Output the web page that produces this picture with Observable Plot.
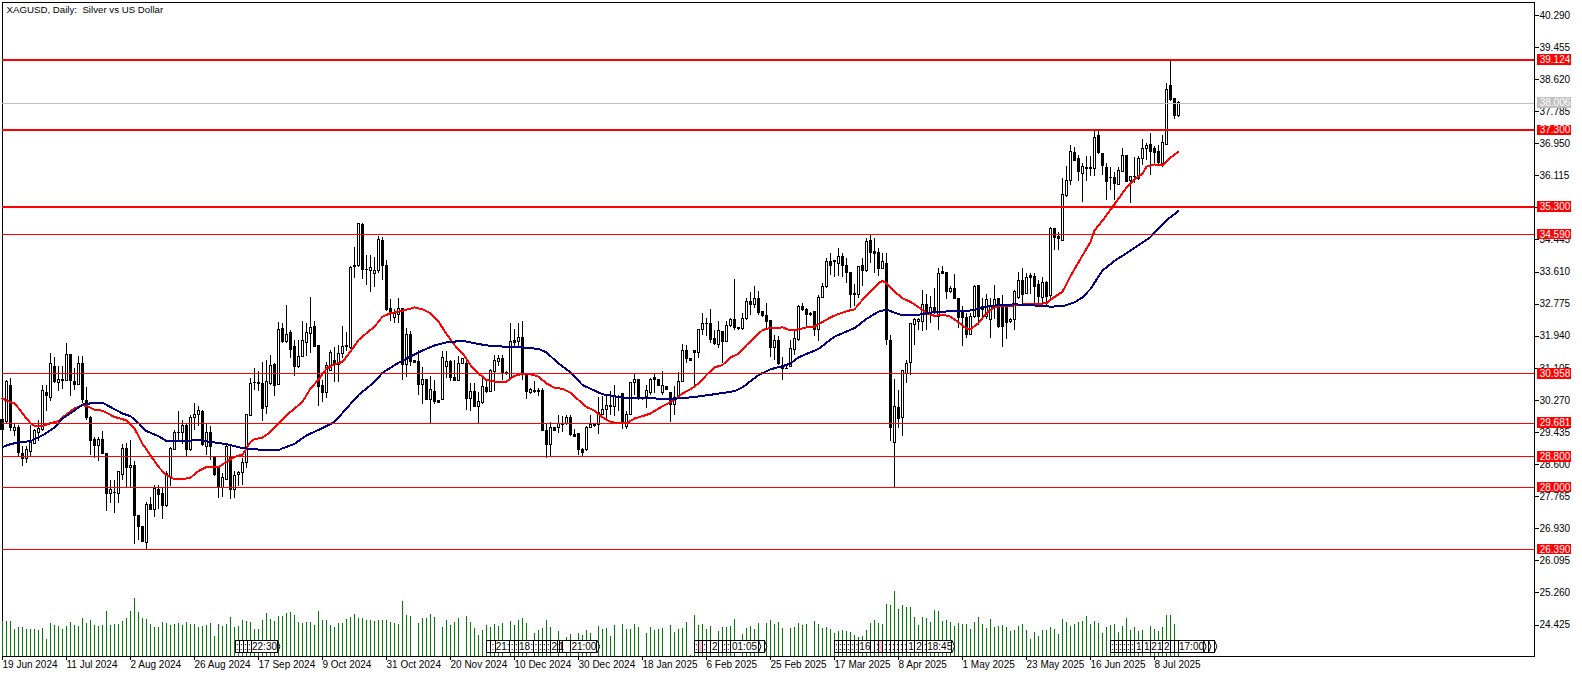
<!DOCTYPE html>
<html>
<head>
<meta charset="utf-8">
<style>
html,body{margin:0;padding:0;background:#fff;overflow:hidden}
#chart{position:relative;width:1582px;height:677px}
#chart svg{position:absolute;left:0;top:0;background:transparent}
#chart svg text{white-space:pre}
</style>
<script src="https://cdn.jsdelivr.net/npm/d3@7"></script>
<script src="https://cdn.jsdelivr.net/npm/@observablehq/plot@0.6"></script>
</head>
<body>
<div id="chart"></div>
<script>
const title = "XAGUSD, Daily:  Silver vs US Dollar";
const opens = [
29.75,29.71,30.64,29.47,29.56,28.88,28.74,28.93,29.14,29.42,
29.49,30.45,30.34,31.13,30.73,30.78,30.78,31.45,30.76,30.68,
31.23,30.26,29.80,29.23,29.08,29.23,28.87,27.84,27.87,27.84,
28.34,29.01,28.52,28.57,27.25,26.97,26.56,27.54,27.42,27.95,
27.84,27.52,28.27,28.99,29.43,29.42,29.60,28.97,29.81,29.90,
29.96,29.06,29.41,28.80,28.54,28.00,28.20,28.80,27.93,28.34,
28.38,28.64,29.87,30.71,30.70,30.70,30.09,30.70,31.19,30.67,
32.13,31.79,32.02,31.65,31.13,31.41,31.77,31.99,32.17,31.69,
30.64,30.45,31.04,31.30,31.18,31.49,31.65,31.63,33.75,33.77,
34.84,33.67,33.65,33.56,33.64,34.42,33.77,32.64,32.41,32.48,
32.64,31.18,31.97,31.30,31.28,30.68,30.80,30.28,30.50,30.25,
30.28,31.13,31.27,30.85,30.78,31.23,31.23,30.30,30.50,30.10,
30.21,30.59,30.50,31.01,31.28,31.36,30.96,30.86,31.82,31.80,
31.89,30.97,30.45,30.52,30.50,30.51,29.47,29.11,29.54,29.56,
29.62,29.65,29.82,29.38,29.39,28.97,28.97,29.56,29.61,29.63,
29.89,30.02,30.09,30.10,30.36,30.43,29.58,29.89,30.71,30.80,
30.34,30.35,30.45,30.84,30.80,30.45,30.63,30.47,30.16,30.32,
30.76,31.56,31.35,31.56,31.51,32.09,32.25,32.26,31.86,31.71,
32.06,31.80,32.21,32.36,32.16,32.13,32.39,32.83,32.74,32.91,
32.56,32.47,32.33,31.64,31.82,31.17,31.09,31.15,31.58,31.84,
32.70,32.63,32.51,32.57,32.09,32.93,33.22,33.87,33.89,33.83,
34.00,33.78,33.58,33.04,33.02,33.76,33.63,34.41,34.13,34.10,
33.70,33.83,31.81,29.17,30.07,29.82,30.97,31.25,32.23,32.30,
32.32,32.76,32.50,32.67,32.45,33.60,33.58,33.08,33.17,32.91,
32.58,32.41,31.97,32.43,33.25,32.70,32.45,32.37,32.67,32.91,
32.67,32.67,32.30,32.35,32.93,33.38,33.04,33.51,33.48,33.28,
32.93,33.32,32.98,34.72,34.52,34.43,35.59,35.98,36.72,36.54,
36.17,36.33,36.33,36.28,37.15,36.68,36.33,36.06,36.07,35.88,
36.22,36.64,35.98,36.08,36.02,36.54,36.80,36.92,36.80,36.74,
36.43,36.91,38.45,38.10,37.67];
const closes = [
29.49,30.74,29.54,29.54,28.90,28.74,28.97,29.16,29.47,29.53,
30.51,30.39,31.21,30.75,30.79,30.81,31.45,30.78,30.67,31.23,
30.27,29.81,29.21,29.09,29.23,28.88,27.84,27.93,27.86,28.40,
29.01,28.52,28.57,27.26,26.97,26.58,27.54,27.43,27.97,27.82,
27.52,28.36,29.01,29.43,29.41,29.60,28.99,29.80,29.90,29.99,
29.12,29.41,29.06,28.32,28.00,28.26,29.07,27.94,28.29,28.38,
28.65,29.88,30.69,30.72,30.71,30.04,30.76,31.17,30.65,32.10,
31.80,31.97,31.58,31.13,31.41,31.81,32.02,32.15,31.67,30.63,
30.47,31.17,31.51,31.18,31.47,31.65,31.69,33.72,33.76,34.87,
33.67,33.66,33.71,33.64,34.45,33.76,32.63,32.54,32.51,32.64,
31.19,31.97,31.28,31.25,30.67,30.80,30.28,30.54,30.24,30.21,
31.37,31.27,30.84,30.78,31.23,31.34,30.30,30.50,30.10,30.22,
30.61,30.50,31.03,31.29,31.35,30.99,30.99,31.79,31.77,31.89,
30.97,30.48,30.54,30.48,30.51,29.47,29.10,29.54,29.48,29.65,
29.65,29.80,29.36,29.32,28.97,28.91,29.56,29.63,29.62,29.93,
30.02,30.12,30.12,30.35,30.37,29.67,29.89,30.71,30.80,30.32,
30.30,30.52,30.80,30.80,30.64,30.64,30.54,30.16,30.34,30.76,
31.56,31.34,31.29,31.50,32.10,32.26,32.26,31.83,31.74,32.08,
31.80,32.21,32.36,32.15,32.13,32.39,32.83,32.74,32.91,32.54,
32.47,32.32,31.63,31.82,31.21,31.10,31.10,31.60,31.87,32.70,
32.61,32.48,32.48,32.09,32.93,33.22,33.87,33.78,33.87,34.00,
33.78,33.58,33.02,33.00,33.74,33.63,34.39,34.10,34.07,33.69,
33.87,31.83,29.54,30.09,29.78,31.03,31.21,32.26,32.37,32.37,
32.74,32.50,32.67,32.54,33.57,33.56,33.08,33.17,32.91,32.41,
32.41,31.97,32.45,33.23,32.43,32.63,32.89,32.70,32.89,32.19,
32.17,32.28,32.37,33.10,33.38,33.02,33.45,33.45,33.22,32.96,
33.32,32.96,34.74,34.49,34.48,35.62,35.97,36.74,36.50,36.22,
36.35,36.29,36.29,37.11,36.71,36.37,35.96,36.07,35.90,36.24,
36.64,35.96,36.09,36.09,36.54,36.82,36.90,36.74,36.71,36.46,
36.96,38.36,38.09,37.67,38.00];
const highs = [
29.84,30.80,30.84,29.67,29.62,29.06,29.06,29.62,29.51,29.75,
30.65,30.67,31.49,31.39,31.14,31.14,31.75,31.45,31.10,31.41,
31.42,30.61,29.84,29.30,29.30,29.47,28.88,28.19,28.19,28.42,
29.13,29.14,29.23,28.68,27.25,26.97,27.61,27.75,28.05,28.05,
27.97,28.41,29.04,29.49,29.97,29.75,29.67,29.88,30.19,30.10,
30.00,29.67,29.60,28.82,28.54,28.36,29.16,29.06,28.41,28.41,
28.75,29.90,30.84,31.10,31.01,31.25,31.32,31.45,31.23,32.30,
32.28,32.73,32.09,31.84,31.84,32.32,32.28,32.96,32.32,31.69,
30.80,31.25,31.58,31.65,31.69,32.19,32.04,33.76,34.26,34.87,
34.87,34.04,34.04,34.00,34.54,34.52,33.91,32.89,32.64,32.93,
32.67,32.15,32.06,31.32,31.58,31.13,30.80,30.89,30.80,30.27,
31.54,31.54,31.32,31.32,31.41,31.37,31.37,30.71,30.71,30.47,
30.86,30.76,31.08,31.45,31.45,31.45,31.02,32.28,32.12,32.26,
32.33,30.97,30.58,30.76,30.58,30.58,29.67,29.69,29.54,29.89,
29.84,29.89,29.89,29.50,29.39,29.02,29.58,29.89,29.67,30.35,
30.36,30.41,30.49,30.67,30.41,30.43,29.97,30.73,30.97,30.80,
30.35,30.67,30.84,30.96,30.82,31.02,30.64,30.47,30.63,30.99,
31.73,31.71,31.35,31.56,32.10,32.54,32.41,32.64,32.10,32.32,
32.06,32.32,32.41,33.41,32.16,32.54,32.93,33.08,33.23,33.10,
32.56,32.78,32.33,31.95,31.93,31.39,31.19,31.83,32.06,32.73,
32.78,32.67,32.56,32.58,32.99,33.32,33.97,34.10,33.89,34.23,
34.10,33.95,33.58,33.28,33.76,33.95,34.47,34.58,34.48,34.23,
34.10,34.10,31.97,30.82,30.54,31.06,31.32,32.28,32.40,32.41,
33.12,33.02,32.97,33.17,33.69,33.76,33.58,33.23,33.54,32.91,
32.71,32.54,32.54,33.25,33.25,32.93,33.02,32.93,33.25,32.93,
32.99,32.67,32.41,33.13,33.60,33.71,33.56,33.58,33.57,33.38,
33.48,33.37,34.78,34.75,34.65,36.04,36.35,36.89,36.84,36.65,
36.43,36.62,36.62,37.30,37.28,36.68,36.43,36.33,36.19,36.33,
36.83,36.64,36.10,36.59,36.61,37.06,36.96,37.22,36.87,36.89,
37.17,38.52,39.12,38.10,38.05];
const lows = [
29.49,29.67,29.45,29.34,28.80,28.55,28.62,28.78,29.13,29.19,
29.47,29.97,30.23,30.71,30.49,30.55,30.75,30.36,30.54,30.67,
30.19,29.74,28.84,28.75,28.67,28.87,27.39,27.58,27.32,27.60,
28.19,27.97,27.97,26.51,26.62,26.56,26.39,27.40,27.21,27.42,
27.16,27.49,28.04,28.97,29.21,29.13,28.78,28.93,29.49,29.58,
29.06,28.84,28.71,28.30,27.71,27.74,28.19,27.68,27.71,28.04,
28.06,28.49,29.84,30.54,30.49,29.71,29.91,30.67,30.36,30.65,
31.76,31.76,31.37,30.89,31.10,31.39,31.41,31.48,31.65,30.10,
30.21,30.32,31.02,30.74,30.74,31.37,31.54,31.60,33.43,33.74,
33.41,33.25,33.08,33.22,33.58,33.39,32.58,32.32,32.28,32.28,
30.80,30.86,31.15,31.25,30.41,30.17,30.26,29.67,30.17,30.21,
30.26,30.84,30.76,30.76,30.76,31.22,30.02,29.97,30.09,29.67,
30.17,30.45,30.47,30.50,31.15,30.80,30.93,30.84,31.67,31.67,
30.80,30.29,30.43,30.45,30.36,29.45,28.76,28.81,29.45,29.41,
29.43,29.62,29.34,29.30,28.83,28.80,28.95,29.54,29.56,29.38,
29.87,29.80,29.89,29.86,29.97,29.52,29.50,29.87,30.41,30.28,
30.26,30.06,30.41,30.45,30.63,30.41,30.52,29.69,29.89,30.29,
30.74,31.23,31.29,30.67,31.36,31.97,31.93,31.76,31.71,31.63,
31.23,31.78,32.17,32.10,32.10,32.10,32.36,32.49,32.67,32.49,
32.43,32.10,31.39,31.32,31.19,30.80,31.09,31.13,31.45,31.80,
32.58,32.19,32.45,31.93,31.80,32.91,33.19,33.51,33.48,33.50,
33.47,33.32,32.67,32.71,32.91,33.23,33.61,33.84,33.58,33.50,
33.67,31.71,29.19,28.00,29.54,29.32,30.71,30.93,31.71,32.10,
32.06,32.10,32.28,32.50,32.09,33.54,32.90,33.06,32.90,32.15,
31.67,31.89,31.96,32.41,32.21,32.37,32.37,31.89,32.37,32.15,
31.64,31.86,32.26,32.10,32.90,32.73,33.02,33.02,32.80,32.76,
32.71,32.73,32.90,34.17,34.17,34.42,35.56,35.87,36.49,35.96,
35.43,35.96,36.09,36.10,36.68,36.13,35.48,35.74,35.48,35.87,
36.19,35.94,35.39,35.91,36.00,36.39,36.52,36.13,36.39,36.35,
36.33,36.89,38.04,37.58,37.63];
const volumes = [
105,105,105,80,86,86,81,82,80,78,83,
51,98,93,91,80,90,101,93,90,115,
98,108,93,91,93,135,93,96,96,105,
115,135,174,133,115,111,96,88,86,101,
98,93,96,98,93,101,96,96,88,90,
93,98,60,96,91,96,116,88,91,108,
105,103,81,81,108,128,110,106,120,121,
128,131,123,103,100,101,101,93,135,108,
108,93,88,98,98,110,116,126,113,113,
108,108,105,108,108,108,102,98,96,
165,123,120,0,99,114,114,126,117,0,
87,108,93,102,114,0,120,102,84,63,
78,93,87,96,90,99,0,105,93,108,
114,99,0,69,78,84,108,87,0,75,
0,57,66,0,69,63,78,69,0,90,
81,84,60,93,0,96,81,81,96,87,
0,69,87,78,81,84,0,93,72,81,
84,102,3,123,93,96,81,90,0,75,
87,87,90,111,0,66,84,90,81,99,
0,99,108,96,102,
85,0,85,88,100,94,97,0,106,97,85,88,82,70,76,79,76,73,64,58,61,79,100,109,100,97,
157,154,196,142,154,148,148,118,94,118,115,103,139,136,106,109,103,91,100,97,97,82,103,118,97,85,112,88,91,
94,88,76,79,91,97,79,52,73,61,79,79,88,82,67,112,103,91,97,103,
106,121,97,106,100,70,88,94,97,73,91,115,79,88,76,79,0,91,82,76,88,124,124,97,30];

const redBars = [0,2,3,4,6,7,8,10,12,14,16,18,20,21,23,25,28,31,33,35,37,39,41,43,45,47,49,51,53,54,56,58,60,62,63,65,67,69,71,73,75,77,79,81,83,85,86,87,89,91,93,95,97,99,101,103,105,107,109,111,113,115,117,119,121,123,124,126,128,130,132,134,136,138,140,142,144,146,148,150,152,154,156,158,160,162,164,166,168,170,172,174,176,178,180,182,184,186,188,190,192,194,195,197,199,201,203,205,207,209,211,213,215,217,219,220,221,223,225,227,229,231,233,235,237,239,241,242,244,246,248,250,252,254,256,258,260,261,262,265,266,267,268,270,272,273,275,277,279,281,283,285,286,288,290,292,294];
const redValues = [30.32,30.22,30.19,30.07,29.80,29.68,29.61,29.60,29.68,29.73,29.91,30.06,30.14,30.13,30.03,30.00,29.84,29.75,29.54,29.14,28.84,28.54,28.32,28.22,28.22,28.26,28.43,28.54,28.55,28.53,28.67,28.80,28.86,29.19,29.26,29.30,29.45,29.67,29.88,30.06,30.23,30.58,30.81,31.10,31.21,31.27,31.41,31.54,31.84,32.02,32.19,32.45,32.54,32.58,32.63,32.69,32.64,32.54,32.32,32.00,31.71,31.50,31.19,30.97,30.80,30.76,30.76,30.76,30.91,30.96,30.95,30.89,30.71,30.60,30.57,30.47,30.28,30.10,30.00,29.83,29.71,29.67,29.67,29.80,29.86,29.93,30.06,30.17,30.29,30.45,30.56,30.71,30.93,31.13,31.19,31.39,31.48,31.71,31.91,32.10,32.16,32.16,32.17,32.09,32.12,32.17,32.19,32.31,32.43,32.52,32.59,32.64,32.89,33.10,33.32,33.38,33.32,33.10,32.93,32.83,32.70,32.54,32.47,32.50,32.45,32.30,32.14,32.12,32.28,32.54,32.70,32.73,32.73,32.76,32.77,32.78,32.79,32.80,32.89,33.10,33.30,33.50,33.69,34.04,34.39,34.69,34.95,35.23,35.52,35.81,36.02,36.17,36.35,36.41,36.39,36.59,36.74];
const blueBars = [0,2,4,7,10,13,15,18,20,23,25,28,30,32,34,36,39,41,45,49,52,56,60,64,69,73,76,80,83,86,89,93,95,99,102,105,108,111,115,118,121,124,125,130,134,136,139,142,145,150,155,160,165,169,173,178,183,185,189,192,195,197,199,204,208,213,216,219,221,225,229,233,242,247,253,258,262,265,268,270,272,274,275,278,282,287,289,291,294];
const blueValues = [29.06,29.13,29.18,29.21,29.36,29.56,29.80,30.01,30.16,30.21,30.21,30.04,29.93,29.86,29.68,29.47,29.34,29.21,29.21,29.24,29.19,29.13,29.03,28.99,28.98,29.14,29.36,29.55,29.71,30.06,30.41,30.75,30.99,31.25,31.41,31.57,31.70,31.78,31.82,31.76,31.70,31.69,31.67,31.65,31.61,31.52,31.23,31.00,30.67,30.43,30.34,30.34,30.31,30.32,30.36,30.43,30.51,30.61,30.93,31.08,31.16,31.23,31.39,31.61,31.93,32.15,32.39,32.58,32.63,32.48,32.50,32.57,32.61,32.73,32.77,32.74,32.71,32.72,32.82,32.95,33.17,33.49,33.65,33.90,34.17,34.52,34.74,34.96,35.20];

const levelValues = [39.124,37.300,35.300,34.590,30.958,29.681,28.800,28.000,26.390];
const levelWeights = [2,2,2,1,1,1,1,1,1];
const bidValue = 38.006;
const priceTicks = [40.290,39.455,38.620,37.785,36.950,36.115,35.280,34.445,33.610,32.775,31.940,31.105,30.270,29.435,28.600,27.765,26.930,26.095,25.260,24.425];
const dateBars = [0,16,32,48,64,80,96,112,128,144,160,176,192,208,224,240,256,272,288];
const dateLabels = ["19 Jun 2024","11 Jul 2024","2 Aug 2024","26 Aug 2024","17 Sep 2024","9 Oct 2024","31 Oct 2024","20 Nov 2024","10 Dec 2024","30 Dec 2024","18 Jan 2025","6 Feb 2025","25 Feb 2025","17 Mar 2025","8 Apr 2025","1 May 2025","23 May 2025","16 Jun 2025","8 Jul 2025"];

// order labels piled over the volume panel
const tagStarts = [58.25,59.25,60.25,61.25,62.25, 121,122,123.25,126.8,128,129,132.75,134,135,136,137,138.9,139.25,140.2,142, 173,174,175,176,177.2,179,180,181,182,189, 208,209,210,211,212,213,214.2,217,218.2,219.2,220.2,221.2,222.2,223.2,224.2,225.2,226.2,228.1,230.2,231.2, 277,278,279,280,281,282,283,285.2,287,290.2,292,293.2,294.2,300.3,301.5];
const tagEnds   = [59.25,60.25,61.25,62.25,68.75, 122,123.25,126.8,128,129,132.75,134,135,136,137,138.9,139.25,140.2,142,148.7, 174,175,176,177.2,179,180,181,182,189,190.5, 209,210,211,212,213,214.2,217,218.2,219.2,220.2,221.2,222.2,223.2,224.2,225.2,226.2,228.1,230.2,231.2,237.4, 278,279,280,281,282,283,285.2,287,290.2,292,293.2,294.2,300.3,301.5,303];
const tagTexts  = [":",":",":",":","22:30", "",":","21:",":",":","18:",":",":",":",":","2",":","1","","21:00", ":","",":","","2","",":",":","01:05","", ":",":",":",":",":",":","16","",":","",":",":",":",":",":",":","1","2",":","18:45", ":",":",":",":",":",":","1","1","21","2","","","17:00","",""];
const pinkStarts = [174,219.2];
const tippedStarts = [62.25,142,182,189,231.2,294.2,300.3,301.5];

const bars = opens.map((open,i)=>({bar:i,open,close:closes[i],high:highs[i],low:lows[i],volume:volumes[i]}));
const up = bars.filter(d=>d.close>=d.open);
const down = bars.filter(d=>d.close<d.open);
const red = redBars.map((bar,i)=>({bar,value:redValues[i]}));
const blue = blueBars.map((bar,i)=>({bar,value:blueValues[i]}));
const levels = levelValues.map((value,i)=>({value,weight:levelWeights[i]}));
const tags = tagStarts.map((start,i)=>({start,end:tagEnds[i],text:tagTexts[i]}));
const tips = tags.filter(t=>tippedStarts.includes(t.start)).flatMap(t=>[
  {id:t.start,x:t.end,y:48},{id:t.start,x:t.end+0.6,y:30},{id:t.start,x:t.end,y:12}]);

const FONT = "'Liberation Sans', Arial, sans-serif";
const common = {width:1582,height:677,marginLeft:2,marginRight:48,marginTop:2,marginBottom:21};
const xDomain = [0,383];
const labelHalf = 0.135;

const main = Plot.plot({
  ...common,
  style:{fontFamily:FONT,fontSize:"10px",background:"white",color:"black",overflow:"visible"},
  x:{domain:xDomain},
  y:{domain:[23.606,40.624]},
  marks:[
    Plot.frame({stroke:"black",strokeWidth:1,shapeRendering:"crispEdges"}),
    Plot.axisY({anchor:"right",ticks:priceTicks,tickFormat:d=>d.toFixed(3),tickSize:4,tickPadding:1,label:null,fontSize:10,stroke:"black",fill:"black",strokeOpacity:1,shapeRendering:"crispEdges"}),
    Plot.axisX({anchor:"bottom",ticks:dateBars,tickFormat:d=>dateLabels[dateBars.indexOf(d)],textAnchor:"start",tickSize:4,tickPadding:0,label:null,fontSize:10,stroke:"black",fill:"black",strokeOpacity:1,shapeRendering:"crispEdges"}),
    Plot.ruleX(bars,{x:"bar",y1:"low",y2:"high",stroke:"black",strokeWidth:1,shapeRendering:"crispEdges"}),
    Plot.rect(up,{x1:d=>d.bar-0.25,x2:d=>d.bar+0.25,y1:"open",y2:"close",fill:"white",stroke:"black",strokeWidth:1,shapeRendering:"crispEdges"}),
    Plot.rect(down,{x1:d=>d.bar-0.25,x2:d=>d.bar+0.25,y1:"open",y2:"close",fill:"black",stroke:"black",strokeWidth:1,shapeRendering:"crispEdges"}),
    Plot.ruleY([bidValue],{y:d=>d,stroke:"#c0c0c0",strokeWidth:1,shapeRendering:"crispEdges"}),
    Plot.line(red,{x:"bar",y:"value",stroke:"#ff0000",strokeWidth:2,curve:"linear",shapeRendering:"crispEdges"}),
    Plot.line(blue,{x:"bar",y:"value",stroke:"#000080",strokeWidth:2,curve:"linear",shapeRendering:"crispEdges"}),
    Plot.ruleY(levels,{y:"value",stroke:"#ff0000",strokeWidth:"weight",shapeRendering:"crispEdges"}),
    Plot.rect(levels,{x1:()=>383.75,x2:()=>392.2,y1:d=>d.value-labelHalf,y2:d=>d.value+labelHalf,fill:"#ff0000",shapeRendering:"crispEdges"}),
    Plot.rect([bidValue],{x1:()=>383.75,x2:()=>392.2,y1:d=>d-labelHalf,y2:d=>d+labelHalf,fill:"#c0c0c0",shapeRendering:"crispEdges"}),
    Plot.text(levels,{x:()=>384.3,y:"value",text:d=>d.value.toFixed(3),fill:"white",textAnchor:"start",fontSize:10}),
    Plot.text([bidValue],{x:()=>384.3,y:d=>d,text:d=>d.toFixed(3),fill:"white",textAnchor:"start",fontSize:10}),
    Plot.text([title],{frameAnchor:"top-left",dx:4,dy:3.5,lineAnchor:"top",textAnchor:"start",fill:"black",fontSize:9.7})
  ]
});

const overlay = Plot.plot({
  ...common,
  style:{fontFamily:FONT,fontSize:"9px",background:"transparent",color:"black",overflow:"visible"},
  x:{domain:xDomain,axis:null},
  y:{domain:[0,196],range:[656,590.67],axis:null},
  marks:[
    Plot.ruleX(bars.filter(d=>d.volume>0),{x:"bar",y1:()=>0,y2:"volume",stroke:"#008000",strokeWidth:1,shapeRendering:"crispEdges"}),
    Plot.rect(tags,{x1:"start",x2:"end",y1:()=>12,y2:()=>48,fill:d=>pinkStarts.includes(d.start)?"#ffc0cb":"white",stroke:"black",strokeWidth:1,shapeRendering:"crispEdges"}),
    Plot.line(tips,{x:"x",y:"y",z:"id",stroke:"black",strokeWidth:1}),
    Plot.text(tags,{x:d=>(d.start+d.end)/2,y:()=>30,text:"text",fill:"black",fontSize:10})
  ]
});

const host = document.getElementById("chart");
host.append(main, overlay);
</script>
</body>
</html>
